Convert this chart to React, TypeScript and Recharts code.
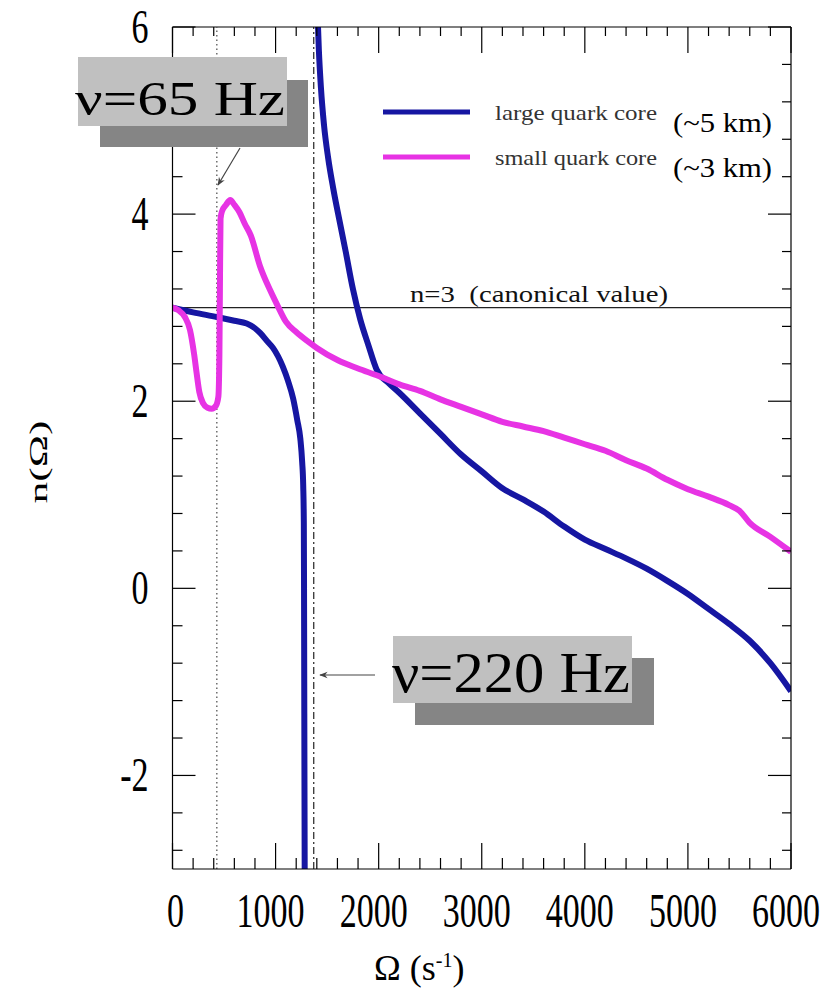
import React from 'react';
import { LineChart, Line, XAxis, YAxis, ReferenceLine } from 'recharts';

// large quark core, branch below the singularity
const largeInnerOmega = [0, 200, 430, 600, 720, 800, 850, 920, 975, 1070, 1120, 1170, 1210, 1240, 1258, 1268, 1274, 1276, 1278, 1280, 1283];
const largeInnerN = [3.0, 2.95, 2.9, 2.86, 2.83, 2.78, 2.73, 2.64, 2.57, 2.37, 2.22, 2.03, 1.8, 1.6, 1.35, 1.1, 0.7, 0.0, -1.0, -2.0, -3.3];

// large quark core, branch above the singularity
const largeOuterOmega = [1405, 1420, 1440, 1470, 1510, 1560, 1620, 1680, 1750, 1820, 1900, 1980, 2100, 2200, 2400, 2600, 2800, 3000, 3200, 3400, 3600, 3800, 4000, 4200, 4400, 4600, 4800, 5000, 5200, 5400, 5600, 5800, 6000];
const largeOuterN = [6.2, 5.75, 5.35, 4.95, 4.6, 4.27, 3.93, 3.6, 3.2, 2.88, 2.6, 2.34, 2.19, 2.09, 1.87, 1.65, 1.43, 1.25, 1.07, 0.95, 0.82, 0.66, 0.52, 0.42, 0.32, 0.21, 0.08, -0.06, -0.22, -0.38, -0.56, -0.8, -1.1];

// small quark core
const smallOmega = [0, 60, 120, 170, 210, 234, 260, 296, 340, 380, 420, 445, 455, 460, 466, 480, 520, 560, 600, 650, 700, 760, 850, 950, 1020, 1100, 1200, 1300, 1400, 1600, 1800, 2000, 2200, 2400, 2600, 2800, 3000, 3200, 3400, 3600, 3800, 4000, 4200, 4400, 4600, 4800, 5000, 5200, 5400, 5500, 5600, 5800, 6000];
const smallN = [3.0, 2.97, 2.9, 2.76, 2.5, 2.3, 2.1, 1.98, 1.93, 1.92, 1.95, 2.05, 2.5, 3.2, 3.95, 4.03, 4.1, 4.15, 4.1, 4.02, 3.9, 3.77, 3.44, 3.18, 3.02, 2.85, 2.74, 2.65, 2.57, 2.44, 2.35, 2.27, 2.18, 2.11, 2.02, 1.94, 1.86, 1.78, 1.73, 1.68, 1.61, 1.54, 1.47, 1.37, 1.28, 1.16, 1.06, 0.98, 0.89, 0.83, 0.7, 0.55, 0.39];

const xTicks = [0, 200, 400, 600, 800, 1000, 1200, 1400, 1600, 1800, 2000, 2200, 2400, 2600, 2800, 3000, 3200, 3400, 3600, 3800, 4000, 4200, 4400, 4600, 4800, 5000, 5200, 5400, 5600, 5800, 6000];
const yTicks = [-2.8, -2.4, -2, -1.6, -1.2, -0.8, -0.4, 0, 0.4, 0.8, 1.2, 1.6, 2, 2.4, 2.8, 3.2, 3.6, 4, 4.4, 4.8, 5.2, 5.6, 6];

const omega65 = 430; // ν = 65 Hz
const omega220 = 1370; // ν = 220 Hz
const canonicalN = 3;

const toPoints = (w: number[], n: number[]) => w.map((v, i) => ({ w: v, n: n[i] }));
const largeInner = toPoints(largeInnerOmega, largeInnerN);
const largeOuter = toPoints(largeOuterOmega, largeOuterN);
const small = toPoints(smallOmega, smallN);

const W = 827;
const H = 990;
const FONT = "'Liberation Serif', serif";
const BLUE = '#1616a2';
const MAGENTA = '#e733e4';

const isMajorX = (v: number) => v % 1000 === 0;
const isMajorY = (v: number) => Math.abs(v % 2) < 1e-6;

// tick numbers in the original are tall and narrow
function TallLabel({ x, y, anchor, children }: any) {
  return (
    <text transform={`translate(${x},${y}) scale(1,1.4)`} textAnchor={anchor} style={{ fontFamily: FONT }}
      fontSize={34} fill="#000">{children}</text>
  );
}

function BottomTick(props: any) {
  const { x, y, payload } = props;
  const v = payload.value;
  const major = isMajorX(v);
  return (
    <g>
      <line x1={x} x2={x} y1={y} y2={y - (major ? 26 : 11)} stroke="#000" strokeWidth={1.2} />
      {major && <TallLabel x={x + (v === 0 ? 3 : -5)} y={y + 58} anchor="middle">{String(v)}</TallLabel>}
    </g>
  );
}

function TopTick(props: any) {
  const { x, y, payload } = props;
  const major = isMajorX(payload.value);
  return <line x1={x} x2={x} y1={y} y2={y + (major ? 26 : 9)} stroke="#000" strokeWidth={1.2} />;
}

function LeftTick(props: any) {
  const { x, y, payload } = props;
  const v = payload.value;
  const major = isMajorY(v);
  return (
    <g>
      <line x1={x} x2={x + (major ? 23 : 10)} y1={y} y2={y} stroke="#000" strokeWidth={1.2} />
      {major && <TallLabel x={x - 24} y={y + 16} anchor="end">{String(v)}</TallLabel>}
    </g>
  );
}

function RightTick(props: any) {
  const { x, y, payload } = props;
  const major = isMajorY(payload.value);
  return <line x1={x} x2={x - (major ? 23 : 9)} y1={y} y2={y} stroke="#000" strokeWidth={1.2} />;
}

const frame = { stroke: '#000', strokeWidth: 1.2 };

export default function App() {
  return (
    <div style={{ position: 'relative', width: W, height: H }}>
      <style>{'body{margin:0}'}</style>
      <LineChart width={W} height={H} margin={{ top: 0, right: 0, bottom: 0, left: 0 }}>
        <XAxis xAxisId={0} dataKey="w" type="number" domain={[0, 6000]} ticks={xTicks} interval={0}
          tickSize={0} tickMargin={0} tickLine={false} tick={BottomTick} height={121} axisLine={frame} allowDataOverflow />
        <XAxis xAxisId="top" orientation="top" dataKey="w" type="number" domain={[0, 6000]} ticks={xTicks} interval={0}
          tickSize={0} tickMargin={0} tickLine={false} tick={TopTick} height={27} axisLine={frame} allowDataOverflow />
        <YAxis yAxisId={0} type="number" domain={[-3, 6]} ticks={yTicks} interval={0}
          tickSize={0} tickMargin={0} tickLine={false} tick={LeftTick} width={172.5} axisLine={frame} allowDataOverflow />
        <YAxis yAxisId="right" orientation="right" type="number" domain={[-3, 6]} ticks={yTicks} interval={0}
          tickSize={0} tickMargin={0} tickLine={false} tick={RightTick} width={36} axisLine={frame} allowDataOverflow />

        <ReferenceLine x={omega65} stroke="#555" strokeWidth={1.3} strokeDasharray="1.5 3" />
        <ReferenceLine x={omega220} stroke="#333" strokeWidth={1.3} strokeDasharray="7 3 2 3" />
        <ReferenceLine y={canonicalN} stroke="#222" strokeWidth={1.2} />

        <Line data={largeInner} dataKey="n" type="monotone" stroke={BLUE} strokeWidth={6} dot={false} isAnimationActive={false} />
        <Line data={largeOuter} dataKey="n" type="monotone" stroke={BLUE} strokeWidth={6} dot={false} isAnimationActive={false} />
        <Line data={small} dataKey="n" type="monotone" stroke={MAGENTA} strokeWidth={6} dot={false} isAnimationActive={false} />
      </LineChart>

      <svg width={W} height={H} style={{ position: 'absolute', left: 0, top: 0, pointerEvents: 'none', fontFamily: FONT }}>
        <defs>
          <marker id="arrow" viewBox="0 0 10 10" refX="9" refY="5" markerWidth="9" markerHeight="7" orient="auto">
            <path d="M0,1 L10,5 L0,9 L3,5 Z" fill="#444" />
          </marker>
        </defs>

        {/* legend */}
        <line x1={383} x2={470} y1={112} y2={112} stroke={BLUE} strokeWidth={5} />
        <line x1={383} x2={470} y1={157} y2={157} stroke={MAGENTA} strokeWidth={5} />
        <text x={495} y={120} fontSize={22} fill="#333" textLength={162} lengthAdjust="spacingAndGlyphs">large quark core</text>
        <text x={495} y={165} fontSize={22} fill="#333" textLength={162} lengthAdjust="spacingAndGlyphs">small quark core</text>
        <text x={673} y={132} fontSize={27} fill="#000" textLength={99} lengthAdjust="spacingAndGlyphs">(~5 km)</text>
        <text x={673} y={177} fontSize={27} fill="#000" textLength={99} lengthAdjust="spacingAndGlyphs">(~3 km)</text>

        {/* canonical value label */}
        <text x={410} y={302} fontSize={24} fill="#111" textLength={258} lengthAdjust="spacingAndGlyphs" xmlSpace="preserve">n=3  (canonical value)</text>

        {/* ν = 65 Hz callout */}
        <rect x={100} y={80} width={208} height={67} fill="#858585" />
        <rect x={78} y={57} width={209} height={69} fill="#c0c0c0" />
        <text x={75} y={115} fontSize={49} fill="#000" textLength={210} lengthAdjust="spacingAndGlyphs">ν=65 Hz</text>
        <line x1={240} y1={148} x2={218} y2={185} stroke="#444" strokeWidth={1.2} markerEnd="url(#arrow)" />

        {/* ν = 220 Hz callout */}
        <rect x={415} y={658} width={239} height={67} fill="#858585" />
        <rect x={393} y={636} width={239} height={67} fill="#c0c0c0" />
        <text x={392} y={692} fontSize={58} fill="#000" textLength={238} lengthAdjust="spacingAndGlyphs">ν=220 Hz</text>
        <line x1={375} y1={675} x2={320} y2={675} stroke="#444" strokeWidth={1.2} markerEnd="url(#arrow)" />

        {/* axis titles */}
        <text x={38} y={462} transform="rotate(-90 38 462)" textAnchor="middle" dominantBaseline="central" fontSize={25}
          fill="#000" textLength={83} lengthAdjust="spacingAndGlyphs">n(Ω)</text>
        <text x={374} y={980} fontSize={36} fill="#000">
          Ω (s<tspan dy={-13} fontSize={20}>-1</tspan><tspan dy={13}>)</tspan>
        </text>
      </svg>
    </div>
  );
}
